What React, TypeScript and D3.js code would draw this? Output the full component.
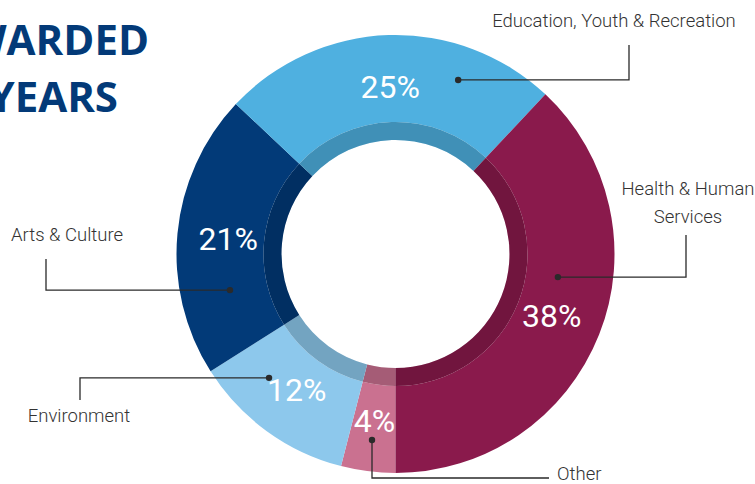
import React from "react";
import * as d3 from "d3";

const categories = ["Other", "Environment", "Arts & Culture", "Education, Youth & Recreation", "Health & Human Services"];
const values = [4, 12, 21, 25, 38];
const colors = ["#CA7190", "#8DC8EC", "#023A78", "#4FB0E0", "#8A1A4C"];
const titleLines = ["AWARDED", "YEARS"];

// callout annotation layout: dot (angle deg, radius), elbow, end, label lines & position
const callouts = [
  { dotA: 187.2, dotR: 187.5, path: "v", elbowY: 478, endX: 549, lines: ["Other"], lx: 557, ly: 480, anchor: "start" },
  { dotA: 225.6, dotR: 177, path: "h", elbowX: 80, endY: 400, lines: ["Environment"], lx: 79, ly: 422, anchor: "middle" },
  { dotA: 257.7, dotR: 169.4, path: "h", elbowX: 46, endY: 259, lines: ["Arts & Culture"], lx: 11, ly: 241, anchor: "start" },
  { dotA: 19.8, dotR: 185, path: "h", elbowX: 629, endY: 45, lines: ["Education, Youth & Recreation"], lx: 614, ly: 27, anchor: "middle" },
  { dotA: 98.1, dotR: 164, path: "h", elbowX: 686, endY: 235, lines: ["Health & Human", "Services"], lx: 688, ly: 195, anchor: "middle" },
];

export default function App() {
  const W = 755, H = 484;
  const cx = 395.5, cy = 254;
  const rOuter = 219, rRing = 132, rInner = 114, rLabel = 168;

  const pie = d3.pie<number>().sort(null).value((d) => d).startAngle(Math.PI).endAngle(3 * Math.PI);
  const arcs = pie(values);
  const arcGen = d3.arc<d3.PieArcDatum<number>>().innerRadius(rRing).outerRadius(rOuter);
  const ringGen = d3.arc<d3.PieArcDatum<number>>().innerRadius(rInner).outerRadius(rRing);
  const labelArc = d3.arc<d3.PieArcDatum<number>>().innerRadius(rLabel).outerRadius(rLabel);

  const labelFont = "Roboto, sans-serif";

  const polar = (aDeg: number, r: number) => {
    const a = (aDeg * Math.PI) / 180;
    return [cx + Math.sin(a) * r, cy - Math.cos(a) * r];
  };

  return (
    <svg width={W} height={H} style={{ position: "absolute", left: 0, top: 0 }}>
      <rect width={W} height={H} fill="#fff" />
      <g fontFamily="'Open Sans', sans-serif" fontWeight="bold" fill="#033A78" textAnchor="end" fontSize={42}>
        <text x={149} y={55}>{titleLines[0]}</text>
        <text x={118} y={112}>{titleLines[1]}</text>
      </g>
      <g transform={`translate(${cx},${cy})`}>
        {arcs.map((a, i) => (
          <g key={i}>
            <path d={arcGen(a) || ""} fill={colors[i]} />
            <path d={ringGen(a) || ""} fill={colors[i]} />
            <path d={ringGen(a) || ""} fill="#000" fillOpacity={0.18} />
          </g>
        ))}
        {arcs.map((a, i) => {
          const [x, y] = labelArc.centroid(a);
          return (
            <text key={"l" + i} x={x} y={y} dy="0.36em" textAnchor="middle" fill="#fff" fontFamily={labelFont} fontSize={32}>
              {values[i]}%
            </text>
          );
        })}
      </g>
      {callouts.map((c, i) => {
        const [dx, dy] = polar(c.dotA, c.dotR);
        const d = c.path === "v"
          ? `M${dx},${dy}V${c.elbowY}H${c.endX}`
          : `M${dx},${dy}H${c.elbowX}V${c.endY}`;
        return (
          <g key={"c" + i}>
            <path d={d} fill="none" stroke="#2a2a2a" strokeWidth={1.3} />
            <circle cx={dx} cy={dy} r={3.2} fill="#2a2a2a" />
            <text x={c.lx} y={c.ly} textAnchor={c.anchor as any} fontFamily={labelFont} fontWeight={300} fontSize={18.5} fill="#333">
              {c.lines.map((t, j) => (
                <tspan key={j} x={c.lx} dy={j === 0 ? 0 : 27.7}>{t}</tspan>
              ))}
            </text>
          </g>
        );
      })}
    </svg>
  );
}
